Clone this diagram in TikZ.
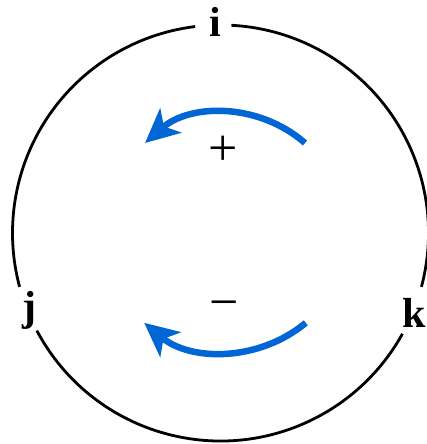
\documentclass[tikz,border=0pt]{standalone}
\usepackage{fontspec}
\setmainfont{Liberation Serif}
\usetikzlibrary{arrows.meta}
\definecolor{arrowblue}{RGB}{0,102,214}
\begin{document}
\begin{tikzpicture}[x=1pt,y=1pt,
  ring/.style={line width=2.8pt, black},
  turn/.style={line width=6.5pt, arrowblue, -{Stealth[length=34pt,width=32pt,inset=9pt]}},
  vlabel/.style={font=\fontsize{42}{48}\selectfont\bfseries, inner sep=0pt},
  sign/.style={font=\fontsize{52}{60}\selectfont, inner sep=0pt}]
\useasboundingbox (0,0) rectangle (427,444);
\coordinate (c) at (220.5,211);
\draw[ring] ([shift={(97:208)}]c) arc[start angle=97,end angle=195,radius=208];
\draw[ring] ([shift={(208:208)}]c) arc[start angle=208,end angle=331,radius=208];
\draw[ring] ([shift={(345:208)}]c) arc[start angle=345,end angle=447,radius=208];
\node[vlabel, anchor=base] (i) at (215,407) {i};
\node[vlabel, anchor=base] (j) at (29,123) {j};
\node[vlabel, anchor=base east] (k) at (426.5,116) {k};
\node[sign] (plus) at (223,293) {+};
\node[sign] (minus) at (224,134) {−};
\coordinate (uc) at (225,209.3);
\draw[turn] ([shift={(48.9:121.7)}]uc) arc[start angle=48.9,end angle=131.1,radius=121.7];
\coordinate (lc) at (225,218.5);
\draw[turn] ([shift={(-50.3:126.5)}]lc) arc[start angle=-50.3,end angle=-129.7,radius=126.5];
\end{tikzpicture}
\end{document}
